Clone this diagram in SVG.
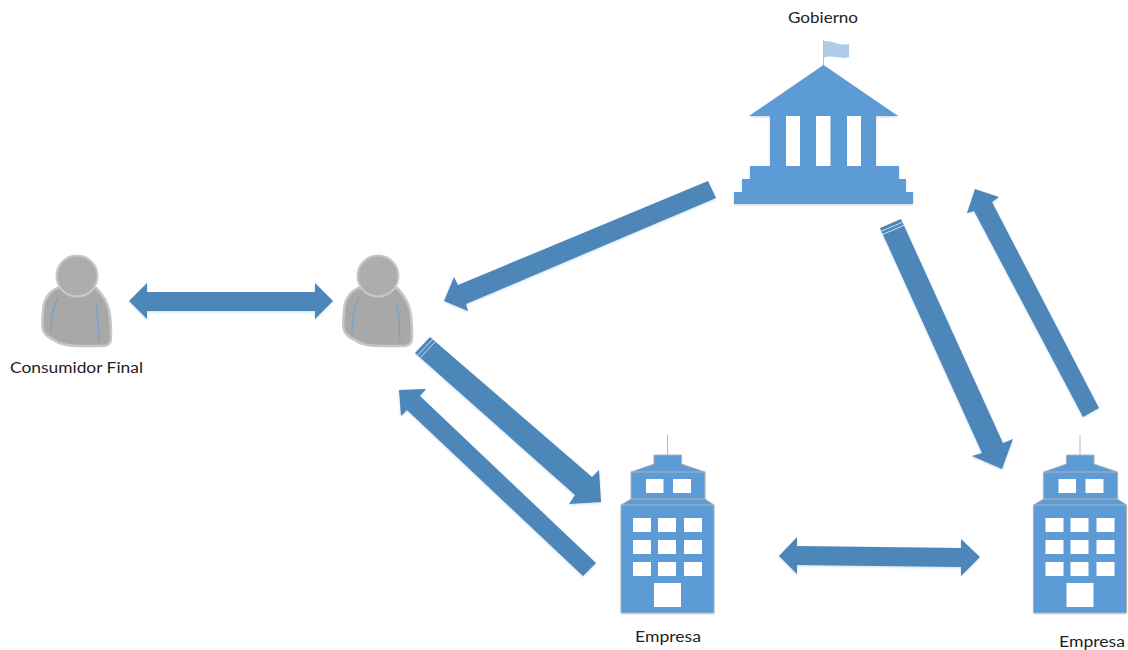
<svg xmlns="http://www.w3.org/2000/svg" width="1128" height="650" viewBox="0 0 1128 650">
<style>
.arrow{fill:#4e86b9;filter:url(#soft)}
.stripe{stroke:#cfe0ee;stroke-width:1;fill:none}
.icon{fill:#5b9bd5;filter:url(#iconSoft)}
.win{fill:#fff}
.edge{fill:none;stroke:#b0b4b8;stroke-width:1}
.label{font-family:Lato,"Liberation Sans",sans-serif;font-size:15.5px;fill:#222}
.pbody{fill:#a8a8a8;stroke:#c6c6c6;stroke-width:2.500}
.phead{fill:#adadad;stroke:#c9c9c9;stroke-width:2}
.pline{fill:none;stroke:#6fa3d4;stroke-width:1.300}
</style>
<defs>
<filter id="soft" x="-10%" y="-10%" width="120%" height="120%"><feGaussianBlur in="SourceAlpha" stdDeviation="1.200" result="b"/><feOffset in="b" dy="1" result="o"/><feFlood flood-color="#5b9bd5" flood-opacity=".35"/><feComposite in2="o" operator="in" result="s"/><feMerge><feMergeNode in="s"/><feMergeNode in="SourceGraphic"/></feMerge></filter>
<filter id="iconSoft" x="-5%" y="-5%" width="110%" height="110%"><feGaussianBlur in="SourceAlpha" stdDeviation="1" result="b"/><feOffset in="b" dy="1" result="o"/><feFlood flood-color="#888" flood-opacity=".4"/><feComposite in2="o" operator="in" result="s"/><feMerge><feMergeNode in="s"/><feMergeNode in="SourceGraphic"/></feMerge></filter>
<filter id="personSoft" x="-10%" y="-10%" width="120%" height="120%"><feGaussianBlur stdDeviation="0.700"/></filter>
<g id="person" filter="url(#personSoft)">
<path class="pbody" d="M57 288C47 293 43 302 43 312C42 320 42 326 43 330C45 336 50 338 54 340C60 345 70 346 80 346L103 346C108 346 111 343 111 338C111 328 111 318 109 310C107 302 104 296 96 288Z"/>
<circle class="phead" cx="77" cy="276" r="20.500"/>
<path class="pline" d="M58 297C53 308 51 320 51 332"/>
<path class="pline" d="M96 304C98 316 99 328 99 341"/>
</g>
<g id="tower">
<line x1="667.500" y1="435" x2="667.500" y2="455" stroke="#b5b5b5" stroke-width="1"/>
<path class="icon" d="M654 455H681.500V464L705 472V499L714 505V613H621V505L631 499V472L654 464Z"/>
<path class="edge" d="M654 455H681.500V464L705 472H631L654 464Z"/>
<path class="edge" d="M631 472V499H705V472M631 499L621 505H714L705 499M621 505V613H714V505"/>
<g class="win">
<rect x="646" y="479" width="17.500" height="14"/><rect x="673" y="479" width="18" height="14"/>
<rect x="633" y="518" width="18" height="14"/><rect x="658" y="518" width="18" height="14"/><rect x="684" y="518" width="18" height="14"/>
<rect x="633" y="540" width="18" height="14"/><rect x="658" y="540" width="18" height="14"/><rect x="684" y="540" width="18" height="14"/>
<rect x="633" y="562" width="18" height="14"/><rect x="658" y="562" width="18" height="14"/><rect x="684" y="562" width="18" height="14"/>
<rect x="654" y="583" width="27" height="24"/>
</g>
</g>
</defs>
<rect width="1128" height="650" fill="#fff"/>

<g id="connectors">
<polygon id="c-consumers" class="arrow" points="129,301 147,283 147,292 315,292 315,283 333,301 315,319 315,311 147,311 147,319"/>
<polygon id="c-gov-person" class="arrow" points="708,181 716,198 466,304 468,311 444,301 454,277 458,285"/>
<g id="c-person-company">
<polygon class="arrow" points="430,337 592,477 599,470 601,502 569,504 575,495 415,353"/>
<line class="stripe" x1="417.600" y1="355.300" x2="432.600" y2="339.300"/>
<line class="stripe" x1="420.300" y1="357.600" x2="435.300" y2="341.600"/>
</g>
<polygon id="c-company-person" class="arrow" points="596,563 583,576 407,410 401,416 399,390 426,389 420,396"/>
<g id="c-gov-company">
<polygon class="arrow" points="901,219 1003,443 1013,439 1002,469 972,456 982,453 880,228"/>
<line class="stripe" x1="881.500" y1="231.200" x2="902.500" y2="222.200"/>
<line class="stripe" x1="883" y1="234.300" x2="904" y2="225.300"/>
</g>
<polygon id="c-company-gov" class="arrow" points="1099,408 1083,417 974,211 967,213 975,189 999,197 992,202"/>
<polygon id="c-companies" class="arrow" points="779,556 797,537 797,546 961,548 961,539 980,557 961,576 961,567 797,565 797,574"/>
</g>

<g id="gobierno">
<line x1="823.500" y1="40" x2="823.500" y2="66" stroke="#bdbdbd" stroke-width="1"/>
<path d="M823.500 41C832 40 838 46 849 44V57C840 60 832 54 823.500 58Z" fill="#aecbe9"/>
<path class="icon" d="M823.500 65L898 116H876V166H899V179H906V192H913V204H734V192H742V179H750V166H770V116H749Z"/>
<g class="win"><rect x="786" y="116" width="14" height="50"/><rect x="816" y="116" width="14.500" height="50"/><rect x="847" y="116" width="14" height="50"/></g>
<text class="label" x="788" y="23" textLength="70" lengthAdjust="spacingAndGlyphs">Gobierno</text>
</g>

<g id="consumidor-final">
<use href="#person"/>
<text class="label" x="10" y="373" textLength="133" lengthAdjust="spacingAndGlyphs">Consumidor Final</text>
</g>

<g id="consumidor">
<use href="#person" x="301"/>
</g>

<g id="empresa-1">
<use href="#tower"/>
<text class="label" x="635" y="642" textLength="66" lengthAdjust="spacingAndGlyphs">Empresa</text>
</g>

<g id="empresa-2">
<use href="#tower" x="412.500"/>
<text class="label" x="1059" y="647" textLength="66" lengthAdjust="spacingAndGlyphs">Empresa</text>
</g>
</svg>
